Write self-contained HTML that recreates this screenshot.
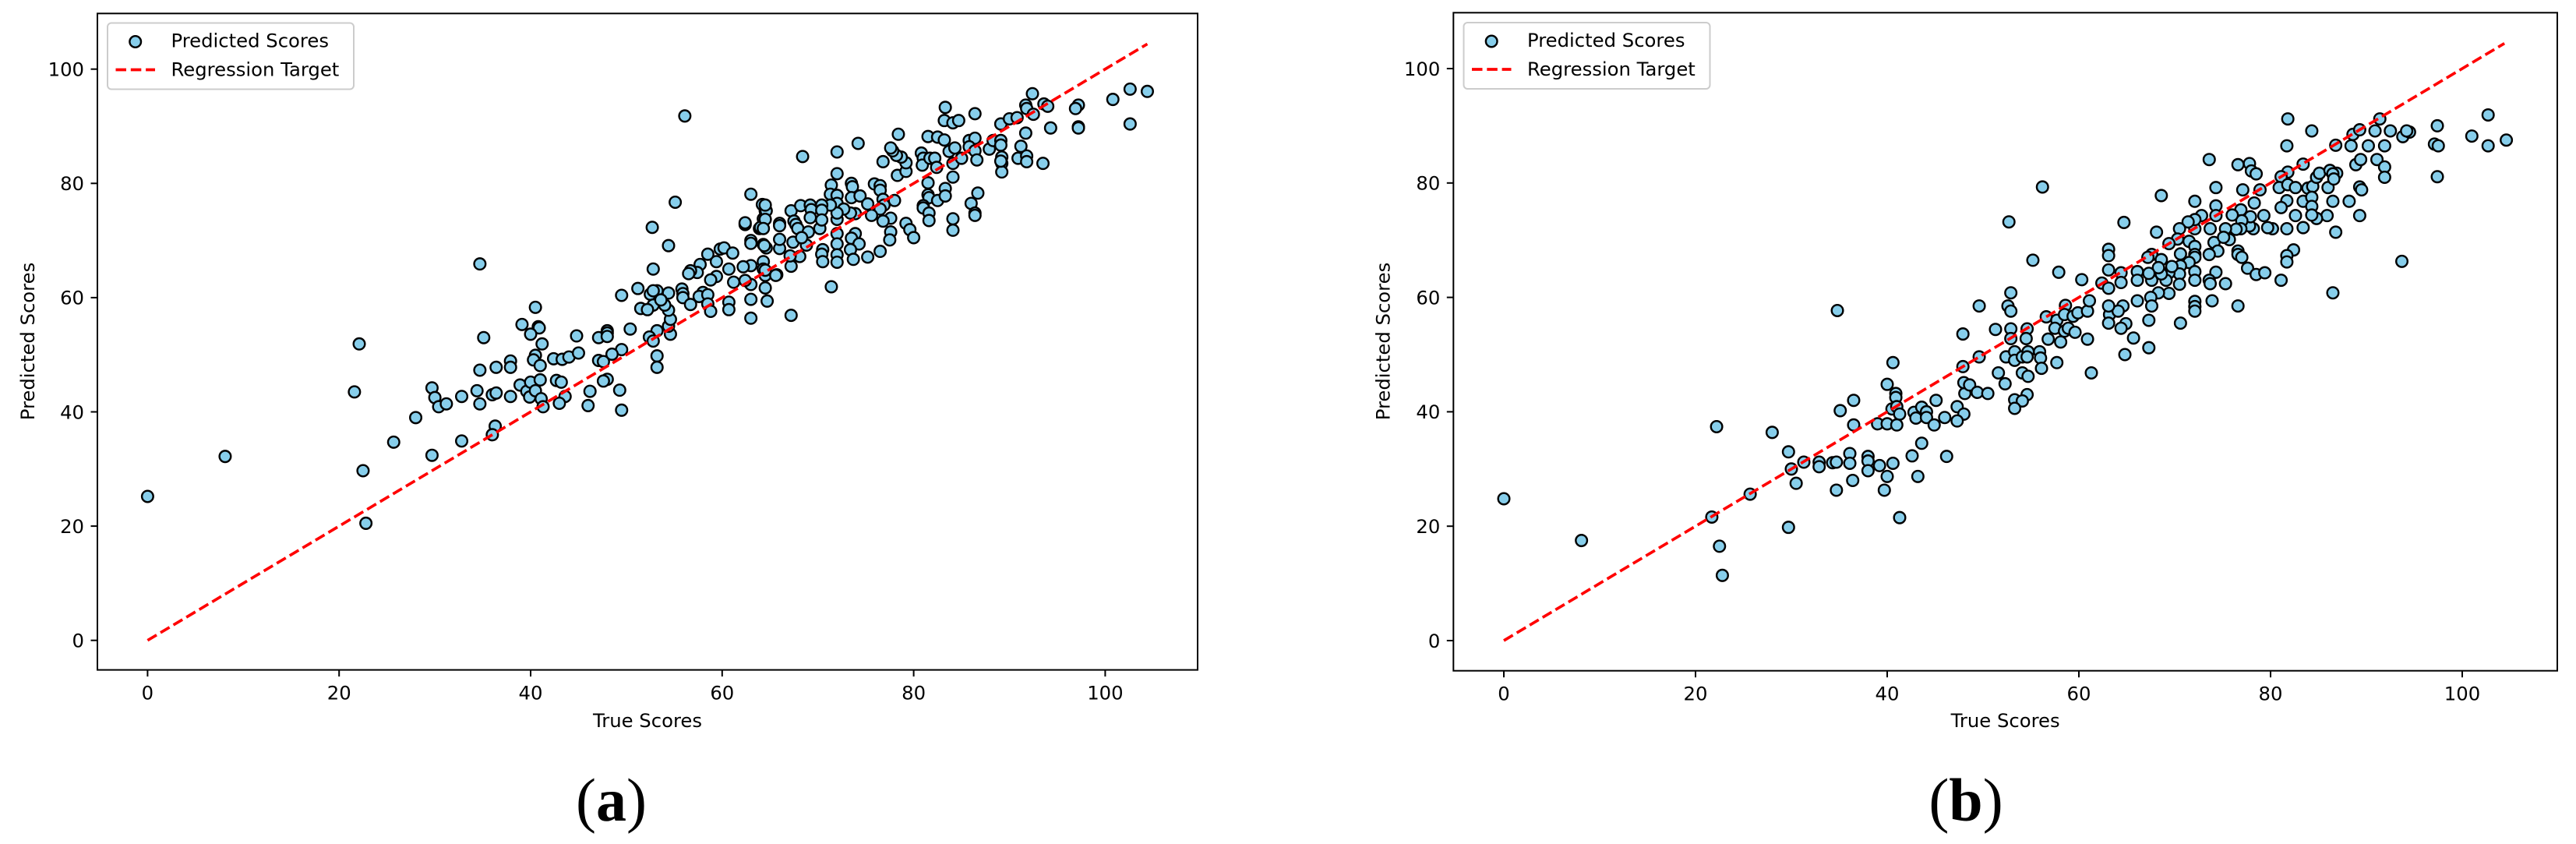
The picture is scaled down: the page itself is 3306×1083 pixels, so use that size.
<!DOCTYPE html>
<html lang="en">
<head>
<meta charset="utf-8">
<title>Predicted vs True Scores</title>
<style>
html,body{margin:0;padding:0;background:#fff;}
svg{display:block;}
text{font-family:"DejaVu Sans","Liberation Sans",sans-serif;fill:#000;}
.cap{font-family:"Liberation Serif",serif;font-weight:bold;font-size:78px;}
.cap tspan{font-weight:normal;}
</style>
</head>
<body>
<svg id="chart" xmlns="http://www.w3.org/2000/svg" width="3306" height="1083" viewBox="0 0 3306 1083">
  <rect x="0" y="0" width="3306" height="1083" fill="#fff"/>
  <g id="panel-a"></g>
  <g id="panel-b"></g>
  <text class="cap" x="784.5" y="1053" text-anchor="middle"><tspan>(</tspan>a<tspan>)</tspan></text>
  <text class="cap" x="2523" y="1053" text-anchor="middle"><tspan>(</tspan>b<tspan>)</tspan></text>
</svg>
<script>
const tickValuesX = [0, 20, 40, 60, 80, 100];
const tickValuesY = [0, 20, 40, 60, 80, 100];
const targetLineRange = [0, 104.4];
const legendLabels = ['Predicted Scores', 'Regression Target'];
const axisLabelX = 'True Scores';
const axisLabelY = 'Predicted Scores';

const scoresA = [
[0,25.2],[8.1,32.2],[21.6,43.5],[22.1,51.9],[22.5,29.7],[22.8,20.5],
[34.7,65.9],[52.7,72.3],[54.4,69.1],[52.8,65.0],[35.1,53.0],[40.5,58.3],[39.1,55.3],[40.8,54.9],[40.9,54.7],[40.0,53.6],[41.2,51.9],[40.5,49.9],[40.3,49.1],[41.0,48.1],[42.4,49.3],[43.3,49.2],[44.0,49.6],[45.0,50.3],[44.8,53.3],[47.1,53.0],[48.0,54.2],[48.0,53.8],[48.0,53.2],[50.4,54.5],[49.5,50.9],[48.5,50.1],[47.1,49.0],[47.6,48.8],[48.0,45.7],[47.6,45.4],[46.2,43.6],[49.3,43.8],[46.0,41.1],[49.5,40.3],[53.2,49.8],[53.2,47.8],[53.2,54.2],[52.4,53.1],[52.8,52.4],[54.6,53.6],[54.4,55.0],[54.6,56.2],[54.4,57.8],[54.0,58.7],[54.4,60.8],[53.2,61.2],[52.5,60.6],[52.8,61.2],[52.8,58.7],[53.6,59.6],[51.5,58.1],[52.2,57.9],[51.2,61.6],[49.5,60.4],[55.8,61.5],[55.9,60.7],[55.9,60.0],[56.7,58.8],[58.0,60.9],[57.6,60.2],[58.5,60.5],[58.5,58.9],[58.8,57.6],[60.7,59.2],[60.7,57.9],[63.0,59.7],[63.0,56.4],[64.7,59.4],[64.5,61.7],[63.0,62.3],[62.4,63.0],[61.2,62.7],[63.0,65.6],[62.2,65.4],[60.7,65.0],[59.4,63.7],[58.8,63.1],[59.4,66.3],[58.5,67.6],[59.8,68.5],[60.2,68.7],[61.1,67.8],[57.7,65.8],[57.4,64.4],[56.7,64.7],[56.5,64.2],[63.0,70.0],[63.0,69.5],[64.3,69.3],[64.6,68.7],[64.3,66.3],[64.3,65.0],[64.5,63.9],[65.7,64.0],[63.9,72.1],[62.4,72.8],
[37.9,48.9],[37.9,47.8],[36.4,47.8],[34.7,47.3],[29.7,44.2],[30.0,42.5],[30.4,40.9],[31.2,41.4],[32.8,42.7],[34.4,43.7],[34.7,41.4],[36.0,43.0],[36.4,43.3],[37.9,42.7],[38.9,44.7],[39.6,43.6],[39.9,42.6],[40.0,45.2],[41.0,45.6],[40.5,43.7],[41.1,42.3],[41.3,40.9],[42.7,45.5],[43.2,45.2],[43.6,42.7],[43.0,41.5],[28.0,39.0],[25.7,34.7],[32.8,34.9],[29.7,32.4],[36.3,37.5],[36.0,36.0],
[56.1,91.8],[55.1,76.7],[63.0,78.1],[64.2,76.3],[64.5,75.2],[64.3,73.8],[64.0,72.3],[62.4,73.1],
[68.4,84.7],[72.0,85.5],[74.2,87.0],[78.4,88.6],[76.8,83.8],[72.0,81.7],[71.4,79.7],[71.3,78.1],[72.0,77.9],[72.0,76.5],[73.5,80.0],[73.6,79.4],[73.5,77.5],[74.4,77.8],[75.2,76.4],[75.9,79.9],[76.5,79.6],[76.5,78.8],[76.8,77.2],[76.9,76.2],[78.0,77.0],[76.5,75.5],[75.6,74.4],[73.9,74.7],[73.4,74.8],[72.7,75.5],[72.0,73.7],[72.0,74.8],[71.3,76.2],[77.6,73.9],[76.8,73.4],[77.6,71.5],[77.5,70.1],[79.2,73.0],[79.6,71.9],[80.0,70.5],[73.9,71.2],[73.5,70.4],[74.3,69.4],[73.4,68.4],[73.7,66.7],[75.2,67.1],[76.5,68.1],[72.0,71.2],[72.0,69.4],[72.0,67.5],[72.0,66.2],[70.5,68.4],[70.4,67.6],[70.5,66.3],[68.1,67.2],[68.8,69.2],[67.4,69.7],[67.2,65.5],[67.1,67.3],[66.0,68.6],[66.0,70.2],[65.6,63.9],[71.4,61.9],[67.2,56.9],[64.5,64.8],[64.4,69.1],[66.0,73.0],[66.0,72.6],[67.2,75.2],[67.5,73.4],[67.7,72.8],[67.9,72.1],[68.2,76.1],[69.0,71.5],[69.2,76.2],[69.3,75.4],[69.2,74.0],[70.2,72.1],[70.4,76.2],[70.4,75.3],[70.4,73.6],[68.3,70.5],[64.6,75.2],[64.5,76.2],[64.5,73.7],[64.3,72.1],
[81.5,80.1],[81.5,78.0],[81.6,77.5],[81.0,76.1],[81.0,75.7],[81.6,74.8],[81.6,73.5],[82.5,77.0],[83.3,79.1],[83.3,77.8],[84.1,81.1],[84.1,73.8],[84.1,71.8],[86.0,76.5],[86.7,78.3],[86.4,74.8],[86.4,74.4],[78.3,81.4],[79.2,82.1],[79.2,83.6],[78.7,84.6],[78.2,84.9],[77.8,85.7],[77.6,86.2],[80.8,85.3],[81.0,84.4],[80.9,83.2],[81.7,84.4],[82.2,84.4],[82.4,82.8],[81.5,88.2],[82.5,88.1],[83.2,87.6],[83.7,85.6],[84.3,86.2],[84.1,83.5],[85.0,84.4],[83.3,93.3],[83.2,91.0],[84.1,90.6],[84.7,91.0],[86.4,92.2],[85.8,87.5],[86.4,87.9],[85.8,86.4],[86.4,85.7],[86.6,84.1],[87.9,86.0],[88.3,87.5],[89.1,87.5],[89.1,86.7],[89.1,90.4],[90.0,91.3],[90.8,91.5],[89.2,84.6],[89.2,83.5],[89.2,82.0],[89.1,83.9],[91.2,86.5],[91.7,88.8],[90.9,84.4],[91.8,84.8],[91.8,83.8],[93.5,83.5],[91.7,93.7],[91.8,93.1],[92.4,95.7],[92.5,92.1],[93.6,93.9],[94.0,93.5],[94.3,89.7],[97.2,93.7],[96.9,93.1],[97.2,89.9],[97.2,89.7],[100.8,94.7],[102.6,96.5],[104.4,96.1],[102.6,90.4]
];

const scoresB = [
[0,24.8],[8.1,17.5],[22.2,37.4],[21.7,21.6],[22.5,16.5],[22.8,11.4],[25.7,25.6],[28.0,36.4],[29.7,33.0],[29.7,19.8],[30.0,30.0],[30.5,27.5],[31.3,31.2],[32.9,31.2],[32.9,30.4],[34.3,31.1],[34.7,31.2],[34.7,26.3],[35.1,40.2],[36.5,42.0],[36.5,37.7],[36.1,32.7],[36.1,31.0],[36.4,28.0],[38.0,32.2],[38.0,31.4],[38.0,29.7],[39.0,37.9],[39.2,30.6],[40.0,37.9],[39.7,26.3],[40.0,28.7],[40.6,31.0],[40.0,44.8],[40.6,48.6],[40.9,43.2],[40.9,42.5],[40.5,40.5],[41.0,40.9],[41.3,39.6],[41.0,37.7],[41.3,21.5],[42.6,32.3],[43.2,28.7],[43.6,34.5],[42.8,39.9],[43.0,38.9],[43.6,40.8],[44.1,40.0],[44.1,39.0],[44.9,37.7],[45.1,42.0],[46.0,39.0],[46.2,32.2],
[34.8,57.7],[56.2,79.3],[52.7,73.2],[55.2,66.5],
[47.3,40.9],[48.0,39.6],[47.3,38.4],[48.1,43.2],[48.0,45.1],[48.6,44.7],[49.4,43.4],[50.5,43.2],[47.9,47.9],[47.9,53.6],[49.6,58.5],[49.6,49.6],[51.3,54.4],[51.6,46.8],[52.3,44.9],[52.9,60.8],[52.6,58.5],[52.9,57.6],[52.9,54.5],[52.9,52.8],[52.4,49.6],[53.3,50.5],[53.3,49.0],[54.1,49.6],[54.6,54.5],[54.5,52.8],[54.7,50.5],[54.6,49.6],[54.1,46.8],[54.7,46.2],[54.6,43.0],[53.3,42.1],[54.1,41.9],[53.3,40.6],[55.9,50.5],[56.0,49.4],[56.1,47.6],[56.6,56.6],[56.8,52.7],[57.7,48.6],[57.7,56.0],[57.5,54.6],[58.6,58.6],[58.5,57.0],[58.1,52.2],[58.5,54.1],[58.9,54.6],[59.6,53.9],[59.4,56.7],[59.9,57.3],[60.9,57.6],[61.1,59.4],[60.9,52.7],[61.3,46.8],[57.9,64.4],[60.3,63.1],[62.4,62.5],[63.2,57.0],
[81.8,91.2],[84.3,89.1],[81.7,86.5],[73.6,84.1],[76.6,83.2],[77.8,83.4],[78.0,82.1],[78.5,81.6],[83.4,83.3],[81.8,81.9],[81.1,81.1],[74.3,79.2],[77.1,78.8],[78.9,78.8],[68.6,77.8],[72.1,76.8],[74.3,76.0],[78.3,76.5],[80.9,79.2],[81.8,79.7],[82.6,79.2],[83.9,79.1],[84.4,79.4],[86.0,79.2],[84.8,81.0],[85.1,81.7],[86.2,82.2],[86.9,81.7],[86.5,81.6],[86.6,80.7],[81.7,76.9],[81.1,75.7],[83.4,76.8],[84.3,77.5],[84.3,75.9],[86.5,76.8],[88.2,76.8],[89.3,79.3],[89.5,78.8],[88.9,83.2],[89.4,84.1],[91.1,84.1],[91.9,82.8],[91.9,81.0],[86.8,86.6],[88.4,86.5],[90.2,86.5],[91.9,86.5],[88.6,88.5],[89.3,89.3],[90.9,89.1],[91.4,91.2],[92.5,89.1],[93.8,88.1],[94.5,88.9],[94.2,89.1],[97.4,90.0],[97.1,86.8],[97.5,86.5],[97.4,81.1],[101.0,88.2],[102.7,91.9],[102.7,86.5],[104.6,87.5],
[89.3,74.3],[86.8,71.4],[85.9,74.3],[84.8,73.8],[84.3,74.4],[82.6,74.3],[83.4,72.2],[81.7,72.0],[80.2,72.0],[79.7,72.2],[79.3,74.3],[78.2,72.0],[77.8,72.5],[77.9,74.1],[76.9,75.3],[77.0,73.4],[76.9,72.0],[76.4,71.9],[76.0,74.4],[75.3,72.0],[74.3,74.3],[73.7,72.0],[72.8,74.3],[72.1,72.0],[72.1,73.6],[71.4,73.2],[70.5,72.0],[70.3,70.2],[68.1,71.4],[64.7,73.1],[69.4,69.4],[71.5,69.8],[74.1,69.6],[75.7,70.1],[75.1,70.5],[72.1,68.9],[74.5,68.1],[73.6,67.5],[72.1,67.5],[70.6,67.6],[72.1,67.0],[71.5,66.1],[67.6,67.5],[67.2,67.0],[68.6,66.6],[63.1,68.4],[63.1,67.3],[76.6,68.1],[76.6,67.5],[77.0,67.0],[82.4,68.3],[81.7,67.3],[81.7,66.2],[93.7,66.3],[77.6,65.1],[78.5,64.0],[79.4,64.3],[81.1,63.0],[74.3,64.4],[75.3,62.4],[73.6,63.0],[73.7,62.4],[72.1,64.5],[72.1,63.0],[70.6,65.5],[70.5,64.1],[70.5,62.3],[69.4,64.3],[69.1,63.0],[69.7,65.4],[68.6,64.1],[68.3,65.2],[67.6,63.0],[67.3,64.2],[66.1,64.5],[66.1,63.0],[64.4,64.3],[64.4,62.6],[63.1,64.8],[63.1,61.6],[69.4,60.7],[68.3,60.8],[67.5,60.0],[66.1,59.4],[64.6,58.5],[64.1,57.6],[63.1,58.5],[67.6,58.5],[72.1,59.3],[72.1,58.4],[72.1,57.6],[73.9,59.4],[76.6,58.5],[86.5,60.8],[67.3,56.0],[70.6,55.5],[64.9,55.4],[64.4,54.6],[63.1,55.5],[65.7,52.9],[67.3,51.2],[64.8,50.0]
];

const NS = 'http://www.w3.org/2000/svg';
function make(tag, attrs, parent, txt) {
  const el = document.createElementNS(NS, tag);
  for (const k in attrs) el.setAttribute(k, attrs[k]);
  if (txt !== undefined) el.textContent = txt;
  parent.appendChild(el);
  return el;
}

function drawPanel(root, points, box) {
  const xScale = v => box.x0 + box.xUnit * v;
  const yScale = v => box.y0 - box.yUnit * v;

  points.forEach(p => {
    const dot = make('circle', {cx: xScale(p[0]), cy: yScale(p[1]), r: 7.3, fill: '#87ceeb', stroke: '#000', 'stroke-width': 2.43}, root);
    
    
  });

  const target = make('line', {x1: xScale(targetLineRange[0]), y1: yScale(targetLineRange[0]), x2: xScale(targetLineRange[1]), y2: yScale(targetLineRange[1]), stroke: '#f00', 'stroke-width': 3.65, 'stroke-dasharray': '13.5 5.8'}, root);
  
  

  const frame = make('rect', {x: box.left, y: box.top, width: box.right - box.left, height: box.bottom - box.top, fill: 'none', stroke: '#000', 'stroke-width': 2}, root);
  
  

  tickValuesX.forEach(v => {
    const tick = make('line', {x1: xScale(v), x2: xScale(v), y1: box.bottom, y2: box.bottom + 8.5, stroke: '#000', 'stroke-width': 2}, root);
    
    
    const label = make('text', {x: xScale(v), y: box.bottom + 38, 'text-anchor': 'middle', 'font-size': 24.3}, root, String(v));
    
    
  });

  tickValuesY.forEach(v => {
    const tick = make('line', {x1: box.left - 8.5, x2: box.left, y1: yScale(v), y2: yScale(v), stroke: '#000', 'stroke-width': 2}, root);
    
    
    const label = make('text', {x: box.left - 17, y: yScale(v) + 8.8, 'text-anchor': 'end', 'font-size': 24.3}, root, String(v));
    
    
  });

  const xTitle = make('text', {x: (box.left + box.right) / 2, y: 933, 'text-anchor': 'middle', 'font-size': 24.3}, root, axisLabelX);
  
  

  const yTitle = make('text', {transform: 'translate(' + box.yTitleX + ' 438) rotate(-90)', 'text-anchor': 'middle', 'font-size': 24.3}, root, axisLabelY);
  
  

  const legend = make('g', {}, root);
  
  
  const lx = box.legendX, ly = box.legendY;
  const legendBox = make('rect', {x: lx, y: ly, width: 316, height: 85, rx: 5, ry: 5, fill: '#fff', 'fill-opacity': 0.8, stroke: '#ccc', 'stroke-width': 2}, legend);
  
  
  const legendDot = make('circle', {cx: lx + 35.7, cy: ly + 24, r: 7.3, fill: '#87ceeb', stroke: '#000', 'stroke-width': 2.43}, legend);
  
  
  const legendLine = make('line', {x1: lx + 10.5, x2: lx + 61, y1: ly + 60, y2: ly + 60, stroke: '#f00', 'stroke-width': 3.65, 'stroke-dasharray': '13.5 5.8'}, legend);
  
  
  const legendText1 = make('text', {x: lx + 81.5, y: ly + 31, 'font-size': 24.3}, legend, legendLabels[0]);
  
  
  const legendText2 = make('text', {x: lx + 81.5, y: ly + 68, 'font-size': 24.3}, legend, legendLabels[1]);
  
  
}

drawPanel(document.getElementById('panel-a'), scoresA, {
  x0: 189.4, xUnit: 12.29, y0: 821.7, yUnit: 7.33,
  left: 125, right: 1537, top: 17.3, bottom: 859.6,
  yTitleX: 44, legendX: 138, legendY: 29.5
});
drawPanel(document.getElementById('panel-b'), scoresB, {
  x0: 1930, xUnit: 12.3, y0: 822, yUnit: 7.34,
  left: 1865.3, right: 3282, top: 16.3, bottom: 860.7,
  yTitleX: 1783.5, legendX: 1878.5, legendY: 29
});
</script>
</body>
</html>
